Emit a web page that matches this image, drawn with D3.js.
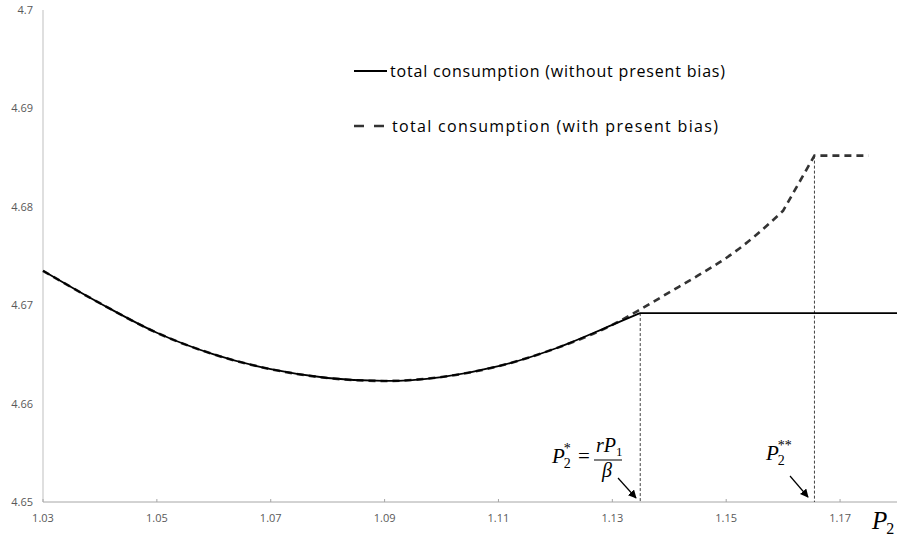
<!DOCTYPE html>
<html lang="en">
<head>
  <meta charset="UTF-8">
  <title>Total consumption vs P2</title>
  <script src="https://d3js.org/d3.v7.min.js"></script>
  <style>
    body { margin: 0; background: #fff; }
    svg { display: block; }
    .tick-label { font-family: "Open Sans", "Liberation Sans", sans-serif; font-size: 11px; fill: #595959; }
    .legend { font-family: "Open Sans", "Liberation Sans", sans-serif; font-size: 16px; fill: #000; }
    .math { font-family: "Liberation Serif", "DejaVu Serif", serif; font-style: italic; fill: #000; }
  </style>
</head>
<body>
  <svg id="chart" width="897" height="537"></svg>
  <script>
    // P2 values and total consumption
    const p2 = [1.03, 1.04, 1.05, 1.06, 1.07, 1.08, 1.09, 1.10, 1.11, 1.12, 1.13, 1.1349];
    const consNoBias = [4.6735, 4.6702, 4.6672, 4.6650, 4.6635, 4.6626, 4.6623, 4.6627, 4.6638, 4.6656, 4.6680, 4.6692];
    // flat part after P2*
    const flatX = [1.18];
    const flatY = [4.6692];

    const p2Bias = [1.03, 1.04, 1.05, 1.06, 1.07, 1.08, 1.09, 1.10, 1.11, 1.12, 1.13, 1.135, 1.14, 1.145, 1.15, 1.155, 1.16];
    const consBias = [4.6735, 4.6702, 4.6672, 4.6650, 4.6635, 4.6626, 4.6623, 4.6627, 4.6638, 4.6656, 4.6680, 4.6696, 4.6713, 4.6730, 4.6748, 4.6770, 4.6796];
    // jump up to P2** then flat
    const p2BiasTail = [1.1655, 1.175];
    const consBiasTail = [4.6852, 4.6852];

    const xTicks = [1.03, 1.05, 1.07, 1.09, 1.11, 1.13, 1.15, 1.17];
    const yTicks = [4.65, 4.66, 4.67, 4.68, 4.69, 4.7];
    const markers = [1.1349, 1.1655]; // P2* and P2**
    const markerTop = [4.6692, 4.6852];

    const svg = d3.select("#chart");
    const x = d3.scaleLinear().domain([1.03, 1.18]).range([43, 897]);
    const y = d3.scaleLinear().domain([4.65, 4.7]).range([502, 10]);

    // axes
    svg.append("line").attr("x1", x(1.03)).attr("x2", x(1.18))
      .attr("y1", y(4.65)).attr("y2", y(4.65)).attr("stroke", "#a6a6a6").attr("stroke-width", 1);
    svg.append("line").attr("x1", x(1.03)).attr("x2", x(1.03))
      .attr("y1", y(4.65)).attr("y2", y(4.7)).attr("stroke", "#bfbfbf").attr("stroke-width", 1);

    svg.selectAll(".xtick").data(xTicks).enter().append("line")
      .attr("x1", d => x(d)).attr("x2", d => x(d))
      .attr("y1", y(4.65)).attr("y2", y(4.65) - 3)
      .attr("stroke", "#a6a6a6");

    svg.selectAll(".xlab").data(xTicks).enter().append("text")
      .attr("class", "tick-label")
      .attr("x", d => x(d)).attr("y", y(4.65) + 20)
      .attr("text-anchor", "middle")
      .text(d => d.toFixed(2));

    svg.selectAll(".ylab").data(yTicks).enter().append("text")
      .attr("class", "tick-label")
      .attr("x", 33).attr("y", d => y(d) + 4)
      .attr("text-anchor", "end")
      .text(d => d === 4.7 ? "4.7" : d.toFixed(2));

    // vertical dotted markers
    svg.selectAll(".marker").data(markers).enter().append("line")
      .attr("x1", d => x(d)).attr("x2", d => x(d))
      .attr("y1", (d, i) => y(markerTop[i])).attr("y2", y(4.65))
      .attr("stroke", "#404040").attr("stroke-width", 1)
      .attr("stroke-dasharray", "3,2");

    const smooth = d3.line().x(d => x(d[0])).y(d => y(d[1])).curve(d3.curveMonotoneX);
    const straight = pts => pts.map(p => `L${x(p[0])},${y(p[1])}`).join("");

    // with present bias (dashed)
    svg.append("path")
      .attr("d", smooth(d3.zip(p2Bias, consBias)) + straight(d3.zip(p2BiasTail, consBiasTail)))
      .attr("fill", "none").attr("stroke", "#333")
      .attr("stroke-width", 2.6).attr("stroke-dasharray", "7,5");

    // without present bias (solid)
    svg.append("path")
      .attr("d", smooth(d3.zip(p2, consNoBias)) + straight(d3.zip(flatX, flatY)))
      .attr("fill", "none").attr("stroke", "#000")
      .attr("stroke-width", 1.8);

    // legend
    svg.append("line").attr("x1", 354).attr("x2", 387).attr("y1", 71).attr("y2", 71)
      .attr("stroke", "#000").attr("stroke-width", 1.8);
    svg.append("text").attr("class", "legend").attr("x", 390).attr("y", 77)
      .attr("textLength", 335).text("total consumption (without present bias)");
    svg.append("line").attr("x1", 354).attr("x2", 384).attr("y1", 126).attr("y2", 126)
      .attr("stroke", "#333").attr("stroke-width", 2.6).attr("stroke-dasharray", "10,10");
    svg.append("text").attr("class", "legend").attr("x", 392).attr("y", 132)
      .attr("textLength", 326).text("total consumption (with present bias)");

    // annotation P2* = rP1 / beta
    const a1 = svg.append("g").attr("class", "math");
    const t1 = a1.append("text").attr("x", 552).attr("y", 463).attr("font-size", 21);
    t1.append("tspan").text("P");
    t1.append("tspan").attr("font-size", 14).attr("dx", -1).attr("dy", 5).attr("font-style", "normal").text("2");
    t1.append("tspan").attr("font-size", 14).attr("dx", -7).attr("dy", -15).attr("font-style", "normal").text("*");
    a1.append("text").attr("x", 578).attr("y", 463).attr("font-size", 21).attr("font-style", "normal").text("=");
    const t2 = a1.append("text").attr("x", 596).attr("y", 452).attr("font-size", 20);
    t2.append("tspan").text("rP");
    t2.append("tspan").attr("font-size", 13).attr("dy", 4).attr("font-style", "normal").text("1");
    a1.append("line").attr("x1", 594).attr("x2", 622).attr("y1", 460).attr("y2", 460)
      .attr("stroke", "#000").attr("stroke-width", 1);
    a1.append("text").attr("x", 602).attr("y", 477).attr("font-size", 20).text("β");

    // annotation P2**
    const t3 = svg.append("text").attr("class", "math").attr("x", 766).attr("y", 460).attr("font-size", 21);
    t3.append("tspan").text("P");
    t3.append("tspan").attr("font-size", 14).attr("dx", -1).attr("dy", 5).attr("font-style", "normal").text("2");
    t3.append("tspan").attr("font-size", 14).attr("dx", -7).attr("dy", -15).attr("font-style", "normal").text("**");

    // arrows
    svg.append("defs").append("marker")
      .attr("id", "arrow").attr("viewBox", "0 0 10 10")
      .attr("refX", 9).attr("refY", 5)
      .attr("markerWidth", 7).attr("markerHeight", 7)
      .attr("orient", "auto")
      .append("path").attr("d", "M0,0 L10,5 L0,10 z").attr("fill", "#000");
    const arrows = [[618, 478, 636, 498], [790, 476, 808, 497]];
    svg.selectAll(".arrow").data(arrows).enter().append("line")
      .attr("x1", d => d[0]).attr("y1", d => d[1])
      .attr("x2", d => d[2]).attr("y2", d => d[3])
      .attr("stroke", "#000").attr("stroke-width", 1.2)
      .attr("marker-end", "url(#arrow)");

    // axis title P2
    const t4 = svg.append("text").attr("class", "math").attr("x", 872).attr("y", 529).attr("font-size", 25);
    t4.append("tspan").text("P");
    t4.append("tspan").attr("font-size", 16).attr("dx", -1).attr("dy", 5).attr("font-style", "normal").text("2");
  </script>
</body>
</html>
